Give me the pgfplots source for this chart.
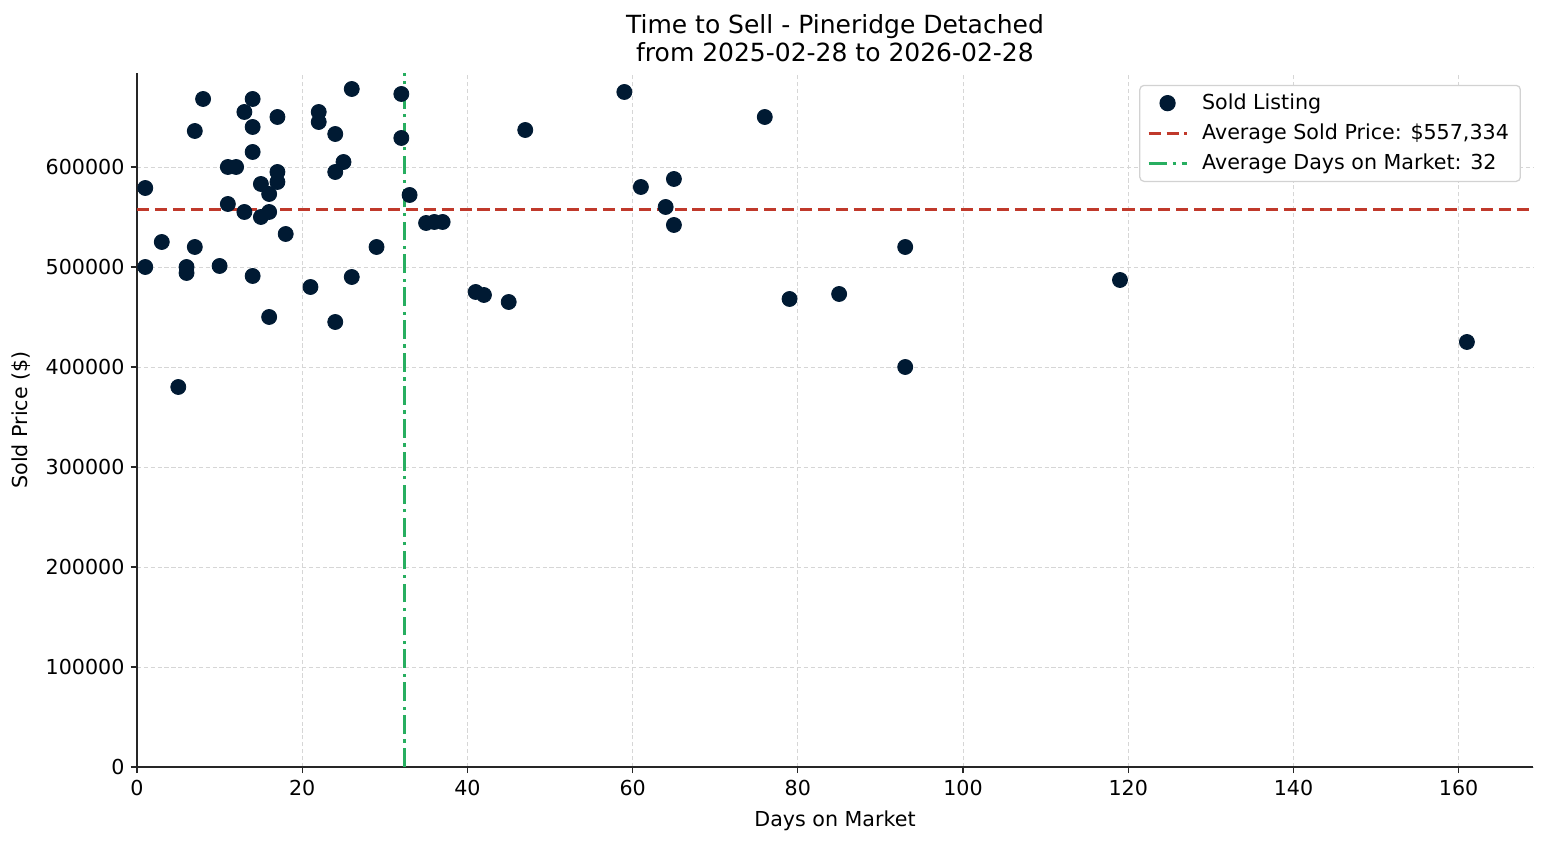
\documentclass[border=0pt]{standalone}
\usepackage{pgfplots}
\pgfplotsset{compat=1.18}
\usepackage{fontspec}
\setmainfont{DejaVu Sans}
\definecolor{navy}{HTML}{001A33}
\definecolor{avgred}{HTML}{C0392B}
\definecolor{avggreen}{HTML}{27AE60}
\pgfplotsset{
  linelegend/.style={legend image code/.code={\draw[##1] (0cm,0cm) -- (0.65cm,0cm);}},
  dotlegend/.style={legend image code/.code={\draw[##1] plot coordinates {(0.32cm,0cm)};}},
}
\begin{document}
\begin{tikzpicture}
\useasboundingbox (-65.76pt,-37.44pt) rectangle (676.8pt,368.16pt);
\begin{axis}[
  at={(0,0)}, anchor=south west,
  scale only axis,
  width=670.08pt, height=333.12pt,
  xmin=0, xmax=169, ymin=0, ymax=694000,
  axis lines=left,
  axis line style={-, line width=0.6pt, black!85},
  tick align=outside,
  tick style={black!85, line width=0.6pt},
  major tick length=3pt,
  xtick={0,20,...,160},
  ytick={0,100000,...,600000},
  scaled y ticks=false,
  /pgf/number format/assume math mode=true,
  yticklabel style={/pgf/number format/fixed, /pgf/number format/1000 sep={}, xshift=0.5pt},
  tick label style={font=\fontsize{9.9}{11.5}\selectfont},
  grid=major,
  grid style={dash pattern=on 2pt off 1.3pt, gray!32, line width=0.35pt},
  xlabel={Days on Market},
  ylabel={Sold Price (\$)},
  label style={font=\fontsize{9.9}{11.5}\selectfont},
  xlabel style={yshift=0pt},
  ylabel style={yshift=0.5pt},
  title={Time to Sell - Pineridge Detached\\from 2025-02-28 to 2026-02-28},
  title style={font=\fontsize{12}{13.4}\selectfont, align=center, yshift=-4.3pt},
  legend style={at={(0.9914,0.983)}, anchor=north east, draw=gray!35, rounded corners=2pt,
    fill=white, font=\fontsize{9.9}{11.5}\selectfont,
    row sep=1.5pt, inner xsep=3.5pt, inner ysep=2pt, line width=0.6pt,
    /tikz/every odd column/.append style={column sep=4.5pt}},
  legend cell align=left,
]
\addplot[only marks, mark=*, mark size=3.6pt, mark options={fill=navy, draw=navy}, navy, dotlegend] coordinates {
(1,579000) (1,500000) (3,525000) (5,380000) (6,500000) (6,494000) (7,520000) (7,636000)
(8,668000) (10,501000) (11,600000) (12,600000) (11,563000) (13,655000) (13,555000)
(14,668000) (14,640000) (14,615000) (14,491000) (15,583000) (15,550000) (16,573000)
(16,555000) (16,450000) (17,650000) (17,595000) (17,585000) (18,533000) (21,480000)
(22,655000) (22,645000) (24,633000) (24,595000) (24,445000) (25,605000) (26,678000)
(26,490000) (29,520000) (32,673000) (32,629000) (33,572000) (35,544000) (36,545000)
(37,545000) (41,475000) (42,472000) (45,465000) (47,637000) (59,675000) (61,580000)
(64,560000) (65,588000) (65,542000) (76,650000) (79,468000) (85,473000) (93,520000)
(93,400000) (119,487000) (161,425000)
};
\addlegendentry{Sold Listing}
\addplot[avgred, line width=1.4pt, dash pattern=on 5.8pt off 2.8pt, linelegend] coordinates {(0,557334) (169,557334)};
\addlegendentry{Average Sold Price: \$557,334}
\addplot[avggreen, line width=1.4pt, dash pattern=on 9pt off 2.6pt on 1.6pt off 2.6pt, linelegend] coordinates {(32.4,0) (32.4,694000)};
\addlegendentry{Average Days on Market: 32}
\end{axis}
\end{tikzpicture}
\end{document}
